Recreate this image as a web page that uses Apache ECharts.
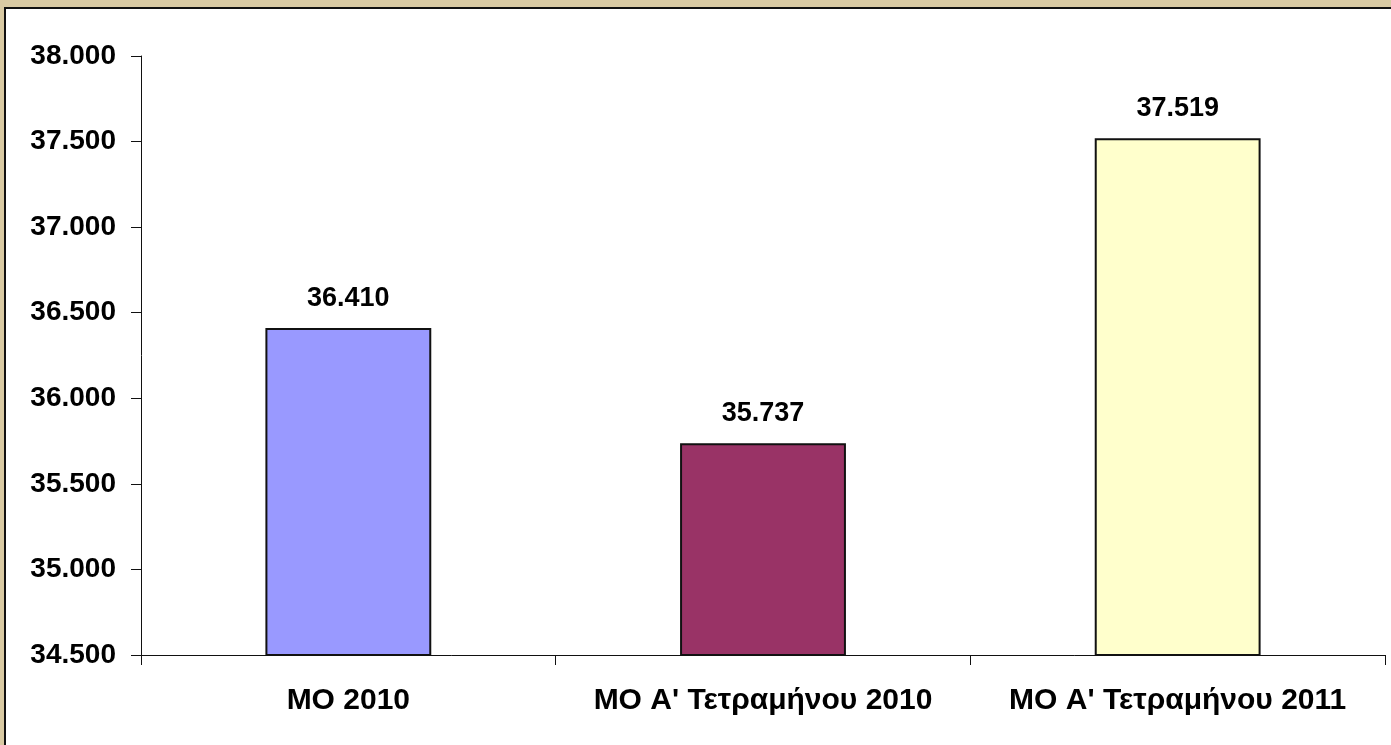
<!DOCTYPE html>
<html>
<head>
<meta charset="utf-8">
<script src="https://cdn.jsdelivr.net/npm/echarts@6/dist/echarts.min.js"></script>
<style>
  html, body { margin: 0; padding: 0; background: #d9caa3; overflow: hidden; }
  #frame {
    position: absolute; left: 4px; top: 7px;
    width: 1387px; height: 738px;
    border-left: 2px solid #111; border-top: 2px solid #111;
    background: #fff;
  }
  #chart { width: 1385px; height: 736px; }
</style>
</head>
<body>
<div id="frame"><div id="chart"></div></div>
<script>
// data
const categories = ["MO 2010", "MO A' Τετραμήνου 2010", "MO A' Τετραμήνου 2011"];
const values = [36410, 35737, 37519];
const barColors = ["#9999ff", "#993366", "#ffffcc"];

// 38000 -> "38.000"
const fmt = (v) => String(Math.round(v)).replace(/\B(?=(\d{3})+(?!\d))/g, ".");

const chart = echarts.init(document.getElementById("chart"));
const font = "'Liberation Sans', Arial, sans-serif";

chart.setOption({
  animation: false,
  grid: { left: 135, right: 6, top: 47, bottom: 90 },
  xAxis: {
    type: "category",
    data: categories,
    axisLine: { lineStyle: { color: "#111", width: 1 } },
    axisTick: { show: true, length: 10, lineStyle: { color: "#111" } },
    axisLabel: {
      color: "#000", fontFamily: font, fontWeight: "bold", fontSize: 30,
      margin: 31, interval: 0,
    },
  },
  yAxis: {
    type: "value",
    min: 34500,
    max: 38000,
    interval: 500,
    axisLine: { show: true, lineStyle: { color: "#111", width: 1 } },
    axisTick: { show: true, length: 10, lineStyle: { color: "#111" } },
    splitLine: { show: false },
    axisLabel: {
      color: "#000", fontFamily: font, fontWeight: "bold", fontSize: 28,
      margin: 25, formatter: fmt,
    },
  },
  series: [{
    type: "bar",
    barWidth: "40%",
    data: values.map((v, i) => ({
      value: v,
      itemStyle: { color: barColors[i] },
    })),
    itemStyle: { borderColor: "#111", borderWidth: 2 },
    label: {
      show: true, position: "top", distance: 16,
      color: "#000", fontFamily: font, fontWeight: "bold", fontSize: 27,
      formatter: (p) => fmt(p.value),
    },
  }],
});
</script>
</body>
</html>
